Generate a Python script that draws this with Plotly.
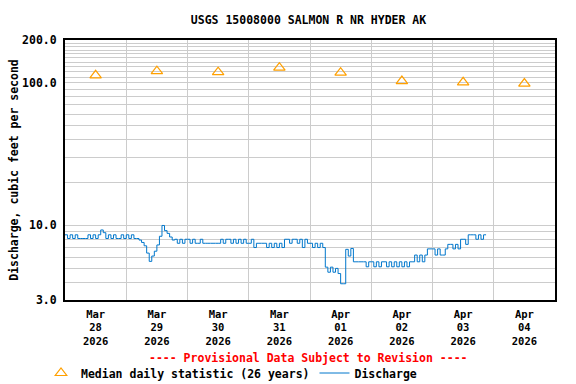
import plotly.graph_objects as go
import pandas as pd

title_text = "USGS 15008000 SALMON R NR HYDER AK"
y_title = "Discharge, cubic feet per second"
provisional = "---- Provisional Data Subject to Revision ----"

# Median daily statistic (26 years), plotted at noon of each day
median_dates = ["2026-03-28 12:00", "2026-03-29 12:00", "2026-03-30 12:00", "2026-03-31 12:00",
                "2026-04-01 12:00", "2026-04-02 12:00", "2026-04-03 12:00", "2026-04-04 12:00"]
median_values = [113, 121, 119, 128, 118, 103, 101, 99]

# Hourly discharge (cfs), one list per day starting at 00:00
mar28 = [8.6, 8.1, 8.6, 8.1, 8.6, 8.1, 8.1, 8.1, 8.1, 8.6, 8.1, 8.6, 8.1, 8.6,
         9.3, 8.9, 8.1, 8.6, 8.1, 8.6, 8.1, 8.1, 8.6, 8.1]
mar29 = [8.6, 8.1, 8.6, 8.1, 8.1, 7.9, 7.6, 7.2, 6.4, 5.6, 6.1, 6.6, 7.3, 8.4,
         10.0, 9.2, 8.8, 8.3, 7.9, 8.0, 7.5, 8.0, 7.5, 8.0]
mar30 = [8.0, 7.5, 8.0, 7.5, 7.5, 8.0, 7.5, 7.5, 7.5, 7.5, 7.5, 7.5, 7.5, 8.0,
         7.5, 8.0, 8.0, 7.5, 8.0, 7.5, 8.0, 7.5, 8.0, 7.5]
mar31 = [7.5, 8.0, 7.0, 7.5, 7.5, 7.5, 7.5, 7.0, 7.5, 7.0, 7.5, 7.0, 7.5, 7.0,
         8.0, 8.0, 7.5, 8.0, 8.0, 7.5, 8.0, 7.0, 8.0, 7.5]
apr01 = [7.5, 7.0, 7.5, 7.0, 7.5, 7.0, 5.1, 4.7, 5.1, 4.7, 5.0, 4.6, 3.9, 3.9,
         6.8, 6.1, 6.9, 5.56, 5.56, 5.56, 5.56, 5.56, 5.13, 5.56]
apr02 = [5.56, 5.13, 5.56, 5.13, 5.56, 5.56, 5.13, 5.56, 5.13, 5.56, 5.13, 5.56,
         5.13, 5.56, 5.13, 5.56, 5.56, 6.2, 5.56, 6.2, 5.56, 6.2, 6.85, 6.85]
apr03 = [6.85, 6.2, 6.85, 6.2, 6.2, 6.85, 7.37, 7.37, 6.85, 7.37, 6.85, 8.0,
         8.0, 7.37, 8.6, 8.6, 8.6, 8.0, 8.6, 8.0, 8.6, 8.6]

discharge_values = mar28 + mar29 + mar30 + mar31 + apr01 + apr02 + apr03
discharge_times = pd.date_range("2026-03-28 00:00", periods=len(discharge_values), freq="h")

day_labels = ["Mar<br>28<br>2026", "Mar<br>29<br>2026", "Mar<br>30<br>2026", "Mar<br>31<br>2026",
              "Apr<br>01<br>2026", "Apr<br>02<br>2026", "Apr<br>03<br>2026", "Apr<br>04<br>2026"]
day_noons = median_dates
midnights = ["2026-03-29", "2026-03-30", "2026-03-31", "2026-04-01",
             "2026-04-02", "2026-04-03", "2026-04-04"]

y_tick_vals = [3, 10, 100, 200]
y_tick_text = ["3.0", "10.0", "100.0", "200.0"]
y_minor_vals = [4, 5, 6, 7, 8, 9, 20, 30, 40, 50, 60, 70, 80, 90,
                110, 120, 130, 140, 150, 160, 170, 180, 190]

FONT = "DejaVu Sans Mono"
GRID = "#cccccc"

fig = go.Figure()
fig.add_trace(go.Scatter(
    x=median_dates, y=median_values, mode="markers",
    name="Median daily statistic (26 years)",
    marker=dict(symbol="triangle-up-open", size=10, color="#ffa000",
                line=dict(width=1.2, color="#ffa000")),
))
fig.add_trace(go.Scatter(
    x=discharge_times, y=discharge_values, mode="lines",
    name="Discharge", line=dict(color="#0077cc", width=1, shape="hv"),
))

fig.update_layout(
    width=576, height=384,
    margin=dict(l=65, r=21, t=40, b=84, autoexpand=False),
    paper_bgcolor="white", plot_bgcolor="white",
    font=dict(family=FONT, size=11.5, color="black", weight="bold"),
    title=dict(text=title_text, x=0.497, xref="paper", xanchor="center",
               y=1 - 20 / 384, yref="container", yanchor="middle",
               font=dict(family=FONT, size=11.5, color="black", weight="bold")),
    showlegend=True,
    legend=dict(orientation="h", xref="container", x=41 / 576, xanchor="left",
                yref="container", y=1 - 373 / 384, yanchor="middle",
                font=dict(family=FONT, size=11.5, color="black", weight="bold"),
                itemwidth=30, bgcolor="rgba(0,0,0,0)", tracegroupgap=0),
)

fig.update_xaxes(
    type="date", range=["2026-03-28", "2026-04-05"], automargin=False,
    tickmode="array", tickvals=day_noons, ticktext=day_labels,
    ticks="", showgrid=False, ticklabelstandoff=3,
    tickfont=dict(family=FONT, size=10.5, weight="bold"),
    minor=dict(tickmode="array", tickvals=midnights, showgrid=True, gridcolor=GRID, gridwidth=1),
    showline=True, mirror=True, linecolor="black", linewidth=2, zeroline=False,
)
fig.update_yaxes(
    type="log", range=[0.47712125, 2.30103], automargin=False,
    tickmode="array", tickvals=y_tick_vals, ticktext=y_tick_text,
    ticks="", ticklabelstandoff=4, showgrid=True, gridcolor=GRID, gridwidth=1,
    tickfont=dict(family=FONT, size=11.5, weight="bold"),
    minor=dict(tickmode="array", tickvals=y_minor_vals, showgrid=True, gridcolor=GRID, gridwidth=1),
    showline=True, mirror=True, linecolor="black", linewidth=2, zeroline=False,
    title=dict(text=y_title, standoff=1, font=dict(family=FONT, size=11.5, weight="bold")),
)

fig.add_annotation(text=provisional, xref="paper", yref="paper", x=0.497, y=(300 - 358) / 260,
                   xanchor="center", yanchor="middle", showarrow=False,
                   font=dict(family=FONT, size=11.5, color="red", weight="bold"))

fig.write_html("out.html", config={"displayModeBar": False},
               post_script="document.body.style.margin='0px';")
